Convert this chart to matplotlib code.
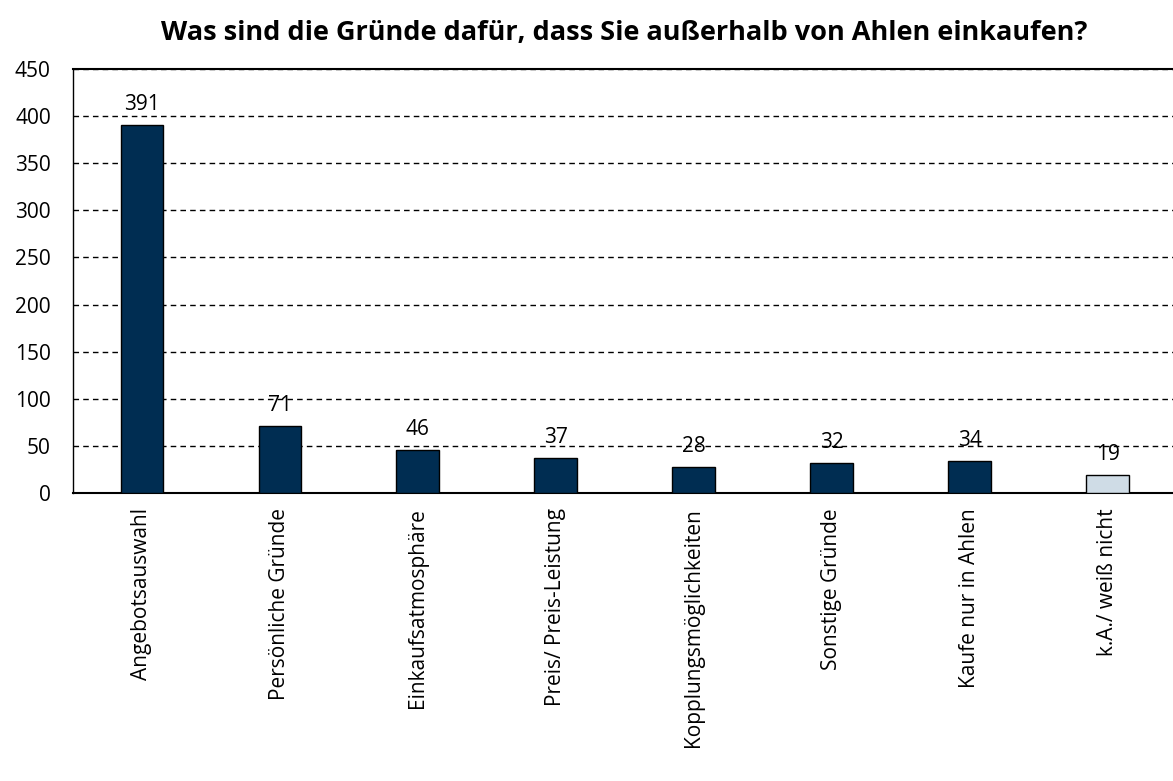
import matplotlib
matplotlib.use("Agg")
import matplotlib.pyplot as plt

categories = ["Angebotsauswahl", "Persönliche Gründe", "Einkaufsatmosphäre",
              "Preis/ Preis-Leistung", "Kopplungsmöglichkeiten", "Sonstige Gründe",
              "Kaufe nur in Ahlen", "k.A./ weiß nicht"]
values = [391, 71, 46, 37, 28, 32, 34, 19]
colors = ["#002D52"] * 7 + ["#CFDCE6"]

plt.rcParams["font.family"] = ["Open Sans", "DejaVu Sans"]

fig = plt.figure(figsize=(11.73, 7.81), dpi=100)
ax = fig.add_axes([73 / 1173, (781 - 493) / 781, 1.0 - 73 / 1173 + 0.003, 424 / 781])

x = range(len(categories))
bars = ax.bar(x, values, width=0.31, color=colors, edgecolor="black", linewidth=1.0, zorder=3)
for xi, v in zip(x, values):
    ax.annotate(str(v), (xi, v), xytext=(0, 7), textcoords="offset points",
                ha="center", va="bottom", fontsize=15)

ax.set_xlim(-0.5, len(categories) - 0.5)
ax.set_ylim(0, 450)
ax.set_yticks(range(0, 451, 50))
ax.set_xticks(list(x))
ax.set_xticklabels(categories, rotation=90, fontsize=15)
ax.tick_params(axis="y", length=0, pad=16, labelsize=15)
ax.tick_params(axis="x", length=0, pad=11)
ax.yaxis.grid(True, linestyle=(0, (4, 3)), color="black", linewidth=1.0, zorder=0)
ax.set_axisbelow(True)
ax.spines["right"].set_visible(False)
ax.spines["top"].set_linewidth(1.5)
ax.spines["left"].set_linewidth(1.0)
ax.spines["bottom"].set_linewidth(1.5)

fig.text(0.532, 0.958, "Was sind die Gründe dafür, dass Sie außerhalb von Ahlen einkaufen?",
         ha="center", va="center", fontsize=19.5, fontweight="bold")

fig.savefig("out.png", dpi=100)
